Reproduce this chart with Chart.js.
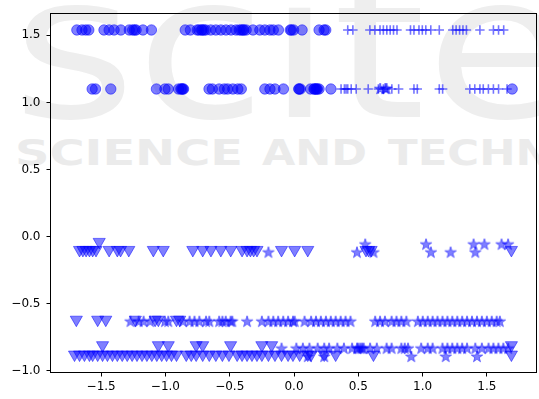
<!DOCTYPE html>
<html><head><meta charset="utf-8">
<script src="https://cdn.jsdelivr.net/npm/chart.js@4.4.1/dist/chart.umd.min.js"></script>
<style>
html,body{margin:0;padding:0;background:#fff;overflow:hidden;}
#wrap{position:relative;width:545px;height:399px;}
#wm{position:absolute;left:0;top:0;}
#c{position:absolute;left:0;top:0;}
</style></head><body>
<div id="wrap">
<svg id="wm" width="545" height="399">
<text x="12" y="117" font-family="DejaVu Sans" font-size="200" fill="#eeeeee" textLength="560" lengthAdjust="spacingAndGlyphs">scite</text>
<text x="15" y="165" font-family="DejaVu Sans" font-weight="bold" font-size="36" fill="#ebebeb" textLength="228" lengthAdjust="spacingAndGlyphs">SCIENCE</text>
<text x="262" y="165" font-family="DejaVu Sans" font-weight="bold" font-size="36" fill="#ebebeb" textLength="105" lengthAdjust="spacingAndGlyphs">AND</text>
<text x="388" y="165" font-family="DejaVu Sans" font-weight="bold" font-size="36" fill="#ebebeb" textLength="330" lengthAdjust="spacingAndGlyphs">TECHNOLOGY</text>
</svg>
<canvas id="c" width="545" height="399"></canvas>
</div>
<script>
// ---- tick labels ----
const xTicks = [-1.5, -1.0, -0.5, 0.0, 0.5, 1.0, 1.5];
const yTicks = [-1.0, -0.5, 0.0, 0.5, 1.0, 1.5];

// ---- row levels (y values) ----
const yCircleHi = 1.54, yCircleLo = 1.10;
const yTriTop = -0.10, yTriTopRaised = -0.04, yStarTopHi = -0.06, yStarTopLo = -0.12;
const yTriMid = -0.62, yStarMid = -0.635;
const yTriBot = -0.88, yTriBotRaised = -0.81, yStarBotHi = -0.836, yStarBotLo = -0.897;

// ---- circles ----
const circleHiX = [-1.689,-1.649,-1.62,-1.596,-1.478,-1.438,-1.399,-1.347,-1.281,-1.255,-1.24,-1.228,-1.175,-1.109,
  -0.846,-0.806,-0.753,-0.74,-0.72,-0.714,-0.701,-0.687,-0.648,-0.608,-0.569,-0.529,-0.49,-0.451,-0.425,-0.41,-0.398,
  -0.39,-0.372,-0.319,-0.266,-0.227,-0.187,-0.161,-0.121,-0.029,-0.02,-0.003,0.063,0.195,0.234,0.247];
const circleLoX = [-1.57,-1.544,-1.425,-1.07,-1.004,-0.978,-0.898,-0.88,-0.872,-0.865,-0.859,-0.661,-0.635,-0.582,
  -0.542,-0.516,-0.476,-0.437,-0.41,-0.227,-0.187,-0.148,-0.082,0.037,0.04,0.05,0.129,0.155,0.16,0.169,0.175,0.182,
  0.195,0.287,1.697];

// ---- pluses ----
const plusHiX = [0.418,0.458,0.59,0.629,0.669,0.695,0.722,0.748,0.774,0.801,0.906,0.933,0.972,0.998,1.025,1.064,1.13,
  1.235,1.261,1.288,1.314,1.341,1.446,1.551,1.591,1.631];
const plusLoX = [0.366,0.392,0.405,0.418,0.445,0.484,0.577,0.656,0.695,0.761,0.814,0.933,0.959,1.13,1.156,1.367,1.406,
  1.446,1.472,1.512,1.551,1.591,1.657];
const starLoX = [0.67,0.71,0.72];

// ---- triangles (down) ----
const triTopX = [-1.668,-1.642,-1.617,-1.591,-1.566,-1.54,-1.438,-1.374,-1.349,-1.285,-1.094,-1.017,-0.787,-0.71,
  -0.646,-0.569,-0.492,-0.404,-0.365,-0.339,-0.314,-0.288,-0.097,0.005,0.107,0.56,0.58,0.6,1.691];
const triTopRaisedX = [-1.515];
const triMidX = [-1.693,-1.527,-1.464,-1.234,-1.08,-1.055,-0.914,-0.889];
const triBotX = [-1.707,-1.668,-1.63,-1.591,-1.566,-1.527,-1.489,-1.451,-1.412,-1.374,-1.336,-1.297,-1.259,-1.221,
  -1.182,-1.144,-1.106,-1.067,-1.029,-0.991,-0.953,-0.914,-0.838,-0.799,-0.761,-0.71,-0.659,-0.608,-0.557,-0.506,
  -0.442,-0.404,-0.365,-0.327,-0.288,-0.25,-0.199,-0.148,-0.097,-0.046,-0.008,0.044,0.107,0.133,0.235,0.324,0.618,1.691];
const triBotRaisedX = [-1.489,-1.055,-0.978,-0.761,-0.71,-0.493,-0.25,-0.174,1.691];

// ---- stars ----
const starTopHiX = [0.554,1.027,1.397,1.481,1.614,1.665];
const starTopLoX = [-0.199,0.49,0.618,1.065,1.218,1.41];
const starMidX = [-1.272,-1.208,-1.17,-1.119,-1.004,-0.978,-0.863,-0.812,-0.774,-0.736,-0.684,-0.659,-0.582,-0.557,
  -0.531,-0.493,-0.48,-0.365,-0.25,-0.199,-0.161,-0.123,-0.084,-0.046,-0.008,0.005,0.082,0.133,0.171,0.209,0.248,
  0.286,0.324,0.363,0.401,0.439,0.631,0.669,0.707,0.759,0.797,0.835,0.874,0.963,1.001,1.04,1.078,1.116,1.155,1.193,
  1.231,1.27,1.308,1.346,1.384,1.423,1.461,1.5,1.538,1.576,1.601];
const starBotHiX = [-0.097,0.018,0.069,0.12,0.184,0.235,0.273,0.337,0.388,0.452,0.49,0.5,0.516,0.53,0.542,0.592,0.644,
  0.72,0.759,0.835,0.861,0.887,0.989,1.04,1.078,1.155,1.193,1.231,1.27,1.308,1.346,1.41,1.461,1.513,1.551,1.59,
  1.628,1.666];
const starBotLoX = [0.107,0.235,0.912,1.18,1.423];

const pts = (xs, y) => xs.map(x => ({x, y}));
const FILL = 'rgba(0,0,255,0.5)';

function makeStar(R){
  const s = Math.ceil(2*R + 4);
  const c = document.createElement('canvas'); c.width = s; c.height = s;
  const g = c.getContext('2d'); const cx = s/2, cy = s/2, r = R*0.382;
  g.beginPath();
  for (let i = 0; i < 10; i++) {
    const a = -Math.PI/2 + i*Math.PI/5, rr = i % 2 ? r : R;
    g.lineTo(cx + rr*Math.cos(a), cy + rr*Math.sin(a));
  }
  g.closePath(); g.fillStyle = FILL; g.fill();
  g.strokeStyle = FILL; g.lineWidth = 1; g.stroke();
  return c;
}
const starImg = makeStar(6);

const triStyle = {pointStyle:'triangle', rotation:180, pointRadius:7, backgroundColor:FILL, borderColor:FILL, borderWidth:1};
const circStyle = {pointStyle:'circle', pointRadius:5.2, backgroundColor:FILL, borderColor:FILL, borderWidth:1};
const plusStyle = {pointStyle:'cross', pointRadius:4.7, backgroundColor:FILL, borderColor:'rgba(0,0,255,0.55)', borderWidth:1.6};
const starStyle = {pointStyle:starImg, pointRadius:6, backgroundColor:FILL, borderColor:FILL};

const datasets = [
  Object.assign({data: pts(triTopX, yTriTop).concat(pts(triTopRaisedX, yTriTopRaised), pts(triMidX, yTriMid),
    pts(triBotX, yTriBot), pts(triBotRaisedX, yTriBotRaised))}, triStyle),
  Object.assign({data: pts(starTopHiX, yStarTopHi).concat(pts(starTopLoX, yStarTopLo), pts(starMidX, yStarMid),
    pts(starBotHiX, yStarBotHi), pts(starBotLoX, yStarBotLo), pts(starLoX, yCircleLo))}, starStyle),
  Object.assign({data: pts(circleHiX, yCircleHi).concat(pts(circleLoX, yCircleLo))}, circStyle),
  Object.assign({data: pts(plusHiX, yCircleHi).concat(pts(plusLoX, yCircleLo))}, plusStyle)
];

const fmt = v => (v < 0 ? '\u2212' : '') + Math.abs(v).toFixed(1);
const tickFont = {family:'DejaVu Sans', size:12};

const frame = {
  id:'frame',
  afterDraw(chart){
    const a = chart.chartArea, g = chart.ctx;
    g.save(); g.strokeStyle = '#000'; g.lineWidth = 1;
    g.strokeRect(Math.round(a.left)-0.5, Math.round(a.top)+0.5, Math.round(a.right-a.left), Math.round(a.bottom-a.top));
    g.restore();
  }
};

new Chart(document.getElementById('c'), {
  type:'scatter',
  data:{datasets},
  options:{
    responsive:false, animation:false, devicePixelRatio:1,
    layout:{padding:{top:7.5, right:3.6, left:0, bottom:0}},
    plugins:{legend:{display:false}, tooltip:{enabled:false}},
    scales:{
      x:{type:'linear', min:-1.89, max:1.89,
        afterBuildTicks: s => { s.ticks = xTicks.map(v => ({value:v})); },
        afterFit: s => { s.height = 27; },
        grid:{display:true, drawOnChartArea:false, drawTicks:true, tickLength:4.5, tickColor:'#000', tickWidth:1},
        border:{display:false},
        ticks:{color:'#000', font:tickFont, padding:3, maxRotation:0, autoSkip:false, callback: v => fmt(v)}
      },
      y:{type:'linear', min:-1.01, max:1.665,
        afterBuildTicks: s => { s.ticks = yTicks.map(v => ({value:v})); },
        afterFit: s => { s.width = 51; },
        grid:{display:true, drawOnChartArea:false, drawTicks:true, tickLength:4.5, tickColor:'#000', tickWidth:1},
        border:{display:false},
        ticks:{color:'#000', font:tickFont, padding:6, autoSkip:false, callback: v => fmt(v)}
      }
    }
  },
  plugins:[frame]
});
</script>
</body></html>
